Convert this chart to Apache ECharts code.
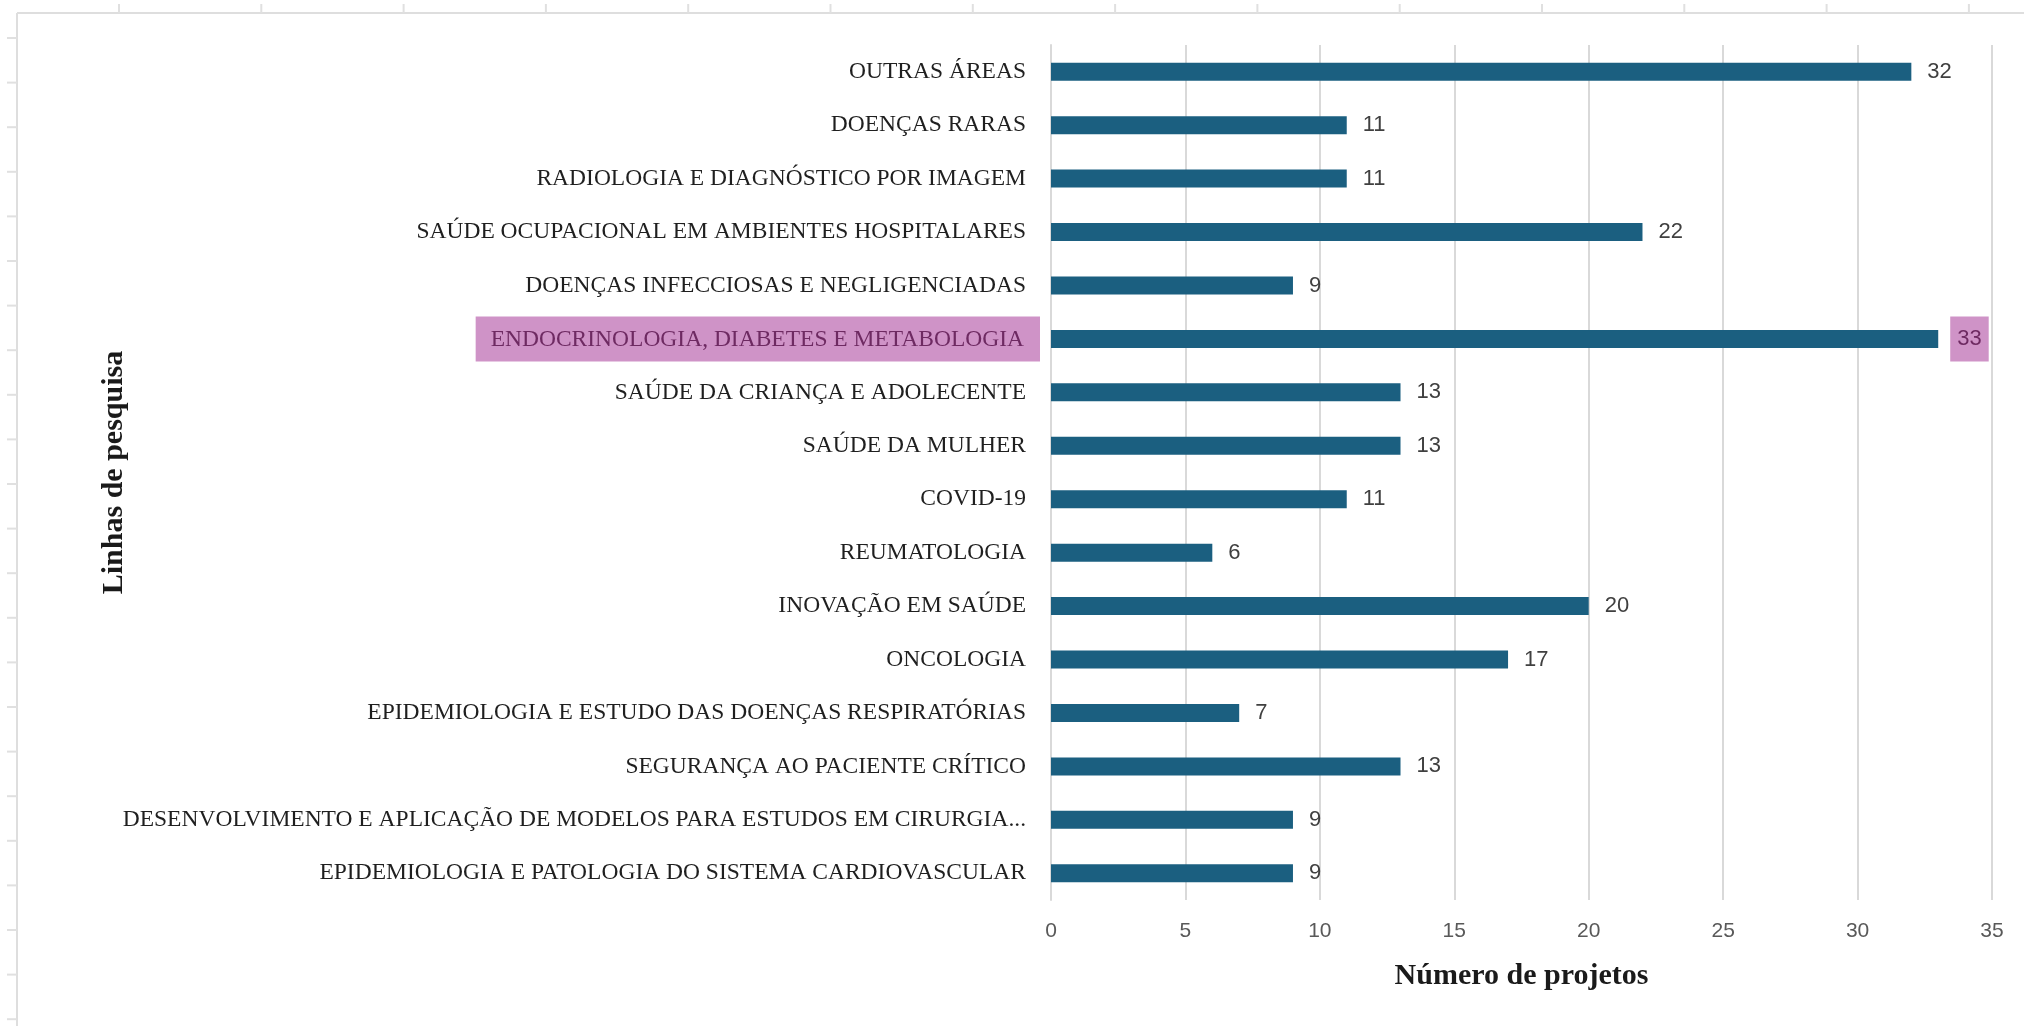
<!DOCTYPE html>
<html>
<head>
<meta charset="utf-8">
<title>Linhas de pesquisa</title>
<script src="https://cdn.jsdelivr.net/npm/echarts@6/dist/echarts.min.js"></script>
<style>
  html, body { margin: 0; padding: 0; background: #fff; }
  #chart { width: 2024px; height: 1026px; }
</style>
</head>
<body>
<div id="chart"></div>
<script>
// research lines, top to bottom as drawn
const linhas = [
  'OUTRAS ÁREAS',
  'DOENÇAS RARAS',
  'RADIOLOGIA E DIAGNÓSTICO POR IMAGEM',
  'SAÚDE OCUPACIONAL EM AMBIENTES HOSPITALARES',
  'DOENÇAS INFECCIOSAS E NEGLIGENCIADAS',
  'ENDOCRINOLOGIA, DIABETES E METABOLOGIA',
  'SAÚDE DA CRIANÇA E ADOLECENTE',
  'SAÚDE DA MULHER',
  'COVID-19',
  'REUMATOLOGIA',
  'INOVAÇÃO EM SAÚDE',
  'ONCOLOGIA',
  'EPIDEMIOLOGIA E ESTUDO DAS DOENÇAS RESPIRATÓRIAS',
  'SEGURANÇA AO PACIENTE CRÍTICO',
  'DESENVOLVIMENTO E APLICAÇÃO DE MODELOS PARA ESTUDOS EM CIRURGIA...',
  'EPIDEMIOLOGIA E PATOLOGIA DO SISTEMA CARDIOVASCULAR'
]
const projetos = [32, 11, 11, 22, 9, 33, 13, 13, 11, 6, 20, 17, 7, 13, 9, 9]
const destaque = 'ENDOCRINOLOGIA, DIABETES E METABOLOGIA'
const xTicks = [0, 5, 10, 15, 20, 25, 30, 35]

const chart = echarts.init(document.getElementById('chart'))

const HL_BG = '#cf93c7'
const HL_TEXT = '#6e2a62'

// page frame (ruler-like decoration of the screenshot)
const frame = []
frame.push({ type: 'line', shape: { x1: 17, y1: 13, x2: 17, y2: 1026 }, style: { stroke: '#dedede', lineWidth: 2 } })
frame.push({ type: 'line', shape: { x1: 17, y1: 13, x2: 2024, y2: 13 }, style: { stroke: '#dedede', lineWidth: 2 } })
for (let y = 38; y < 1026; y += 44.6) {
  frame.push({ type: 'line', shape: { x1: 7, y1: y, x2: 17, y2: y }, style: { stroke: '#e0e0e0', lineWidth: 2 } })
}
for (let x = 119; x < 2024; x += 142.3) {
  frame.push({ type: 'line', shape: { x1: x, y1: 4, x2: x, y2: 13 }, style: { stroke: '#e0e0e0', lineWidth: 2 } })
}

const seriesData = projetos.map((v, i) => {
  const item = { value: v }
  if (linhas[i] === destaque) {
    item.label = {
      backgroundColor: HL_BG,
      color: HL_TEXT,
      padding: [12, 7, 11, 7],
      distance: 12
    }
  }
  return item
})

chart.setOption({
  animation: false,
  backgroundColor: '#fff',
  graphic: frame,
  grid: {
    left: 1051,
    right: 32,
    top: 45,
    bottom: 126
  },
  xAxis: {
    type: 'value',
    min: 0,
    max: 35,
    interval: 5,
    name: 'Número de projetos',
    nameLocation: 'middle',
    nameGap: 61,
    nameTextStyle: {
      fontFamily: 'Liberation Serif',
      fontWeight: 'bold',
      fontSize: 30,
      color: '#1a1a1a'
    },
    axisLine: { show: false },
    axisTick: { show: false },
    axisLabel: {
      margin: 21,
      fontFamily: 'Liberation Sans',
      fontSize: 21,
      color: '#595959',
      formatter: v => (xTicks.indexOf(v) >= 0 ? String(v) : '')
    },
    splitLine: { lineStyle: { color: '#d9d9d9', width: 2 } }
  },
  yAxis: {
    type: 'category',
    data: linhas,
    inverse: true,
    name: 'Linhas de pesquisa',
    nameLocation: 'middle',
    nameGap: 922,
    nameMoveOverlap: false,
    nameTextStyle: {
      fontFamily: 'Liberation Serif',
      fontWeight: 'bold',
      fontSize: 30,
      color: '#1a1a1a'
    },
    axisLine: { show: true, lineStyle: { color: '#d9d9d9', width: 2 } },
    axisTick: { show: false },
    axisLabel: {
      margin: 11,
      formatter: v => (v === destaque ? '{hl|' + v + '}' : '{n|' + v + '}'),
      rich: {
        n: {
          fontFamily: 'Liberation Serif',
          fontSize: 23.5,
          color: '#1f1f1f',
          padding: [0, 14, 0, 0]
        },
        hl: {
          fontFamily: 'Liberation Serif',
          fontSize: 23.5,
          color: HL_TEXT,
          backgroundColor: HL_BG,
          padding: [11, 16, 10, 15]
        }
      }
    }
  },
  series: [{
    type: 'bar',
    data: seriesData,
    barWidth: 18,
    itemStyle: { color: '#1b5f80' },
    label: {
      show: true,
      position: 'right',
      distance: 16,
      fontFamily: 'Liberation Sans',
      fontSize: 22,
      color: '#404040'
    }
  }]
})
</script>
</body>
</html>
